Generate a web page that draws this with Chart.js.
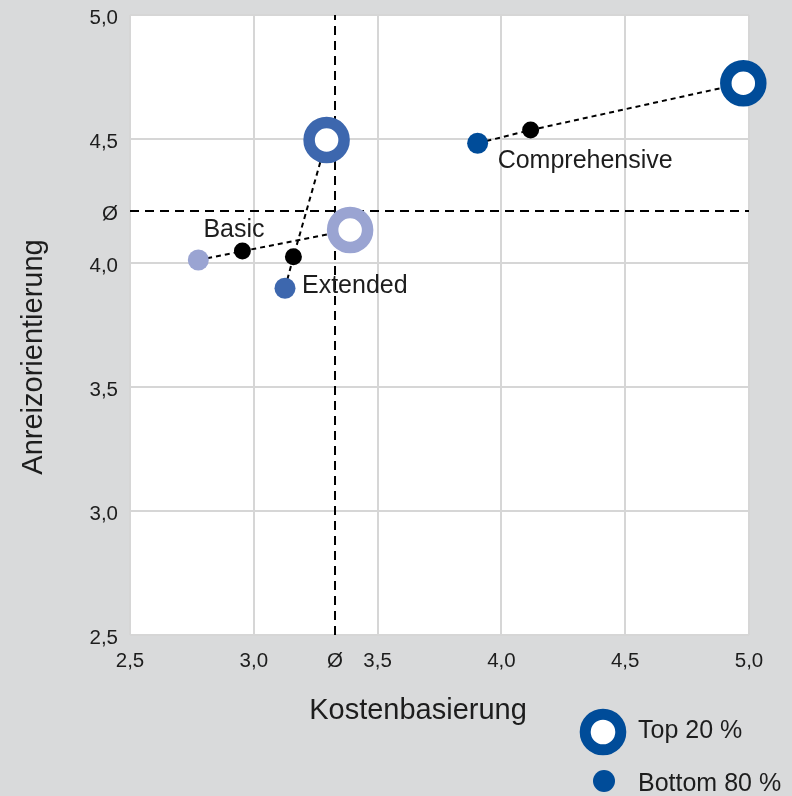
<!DOCTYPE html>
<html>
<head>
<meta charset="utf-8">
<script src="https://cdn.jsdelivr.net/npm/chart.js@4/dist/chart.umd.min.js"></script>
<style>
    html, body { margin: 0; padding: 0; background: #d9dadb; }
    canvas { display: block; }
</style>
</head>
<body>
<canvas id="chart" width="792" height="796"></canvas>
<script>
const groups = ['Basic', 'Extended', 'Comprehensive'];
const groupColors = ['#9aa4d2', '#3d67ae', '#004c99'];

const bottomX = [2.776, 3.126, 3.904];
const bottomY = [4.012, 3.898, 4.483];
const meanX = [2.954, 3.160, 4.118];
const meanY = [4.048, 4.025, 4.536];
const topX = [3.389, 3.294, 4.977];
const topY = [4.133, 4.496, 4.725];

// overall average (Ø)
const avgX = 3.328;
const avgY = 4.210;

const axisMin = 2.5;
const axisMax = 5.0;
const axisStep = 0.5;

const xTitle = 'Kostenbasierung';
const yTitle = 'Anreizorientierung';
const legendLabels = ['Top 20 %', 'Bottom 80 %'];

const FONT = '"Liberation Sans", Arial, sans-serif';
const TEXT = '#1d1d1d';
const GRID = '#d6d6d6';

const fmt = v => v.toFixed(1).replace('.', ',');

const toPts = (xs, ys) => xs.map((x, i) => ({ x, y: ys[i] }));

// dashed connector lines bottom -> mean -> top, one per group
const connectors = groups.map((g, i) => ({
    type: 'line',
    label: g + ' connector',
    data: [
        { x: bottomX[i], y: bottomY[i] },
        { x: meanX[i], y: meanY[i] },
        { x: topX[i], y: topY[i] },
    ],
    borderColor: '#000',
    borderWidth: 2,
    borderDash: [5, 4],
    pointRadius: 0,
    fill: false,
    tension: 0,
    order: 8,
}));

const avgLines = [
    {
        type: 'line',
        label: 'avg x',
        data: [{ x: avgX, y: axisMin }, { x: avgX, y: axisMax }],
        borderColor: '#000',
        borderWidth: 2,
        borderDash: [9, 6],
        pointRadius: 0,
        order: 10,
    },
    {
        type: 'line',
        label: 'avg y',
        data: [{ x: axisMin, y: avgY }, { x: axisMax, y: avgY }],
        borderColor: '#000',
        borderWidth: 2,
        borderDash: [9, 6],
        pointRadius: 0,
        order: 10,
    },
];

const pointSets = [
    {
        type: 'scatter',
        label: 'Mean',
        data: toPts(meanX, meanY),
        pointRadius: 8.5,
        pointBackgroundColor: '#000',
        pointBorderWidth: 0,
        order: 3,
    },
    {
        type: 'scatter',
        label: 'Bottom 80 %',
        data: toPts(bottomX, bottomY),
        pointRadius: 10.5,
        pointBackgroundColor: groupColors,
        pointBorderWidth: 0,
        order: 2,
    },
    {
        type: 'scatter',
        label: 'Top 20 %',
        data: toPts(topX, topY),
        pointRadius: 17.5,
        pointBackgroundColor: '#fff',
        pointBorderColor: groupColors,
        pointBorderWidth: 11.5,
        clip: false,
        order: 1,
    },
];

// label placement relative to an anchor point of each group
const groupLabelPlacement = [
    { anchor: 'mean', dx: -39, dy: -14 },
    { anchor: 'bottom', dx: 17, dy: 5 },
    { anchor: 'bottom', dx: 20, dy: 25 },
];

const decorPlugin = {
    id: 'decor',
    beforeDraw(chart) {
        const { ctx, chartArea: a } = chart;
        ctx.save();
        ctx.fillStyle = '#d9dadb';
        ctx.fillRect(0, 0, chart.width, chart.height);
        ctx.fillStyle = '#fff';
        ctx.fillRect(a.left, a.top, a.right - a.left, a.bottom - a.top);
        ctx.restore();
    },
    afterDraw(chart) {
        const { ctx, scales } = chart;
        const xs = scales.x, ys = scales.y;
        ctx.save();
        ctx.fillStyle = TEXT;

        // group labels
        ctx.font = '25px ' + FONT;
        ctx.textAlign = 'left';
        ctx.textBaseline = 'alphabetic';
        groups.forEach((g, i) => {
            const p = groupLabelPlacement[i];
            const px = p.anchor === 'mean' ? meanX[i] : bottomX[i];
            const py = p.anchor === 'mean' ? meanY[i] : bottomY[i];
            ctx.fillText(g, xs.getPixelForValue(px) + p.dx, ys.getPixelForValue(py) + p.dy);
        });

        // axis titles
        ctx.font = '29px ' + FONT;
        ctx.textAlign = 'center';
        ctx.fillText(xTitle, 418, 719);
        ctx.save();
        ctx.translate(42, 357);
        ctx.rotate(-Math.PI / 2);
        ctx.fillText(yTitle, 0, 0);
        ctx.restore();

        // legend
        const legendColor = groupColors[2];
        ctx.beginPath();
        ctx.arc(603, 732, 17.8, 0, Math.PI * 2);
        ctx.fillStyle = '#fff';
        ctx.fill();
        ctx.lineWidth = 11;
        ctx.strokeStyle = legendColor;
        ctx.stroke();
        ctx.beginPath();
        ctx.arc(604, 781, 11, 0, Math.PI * 2);
        ctx.fillStyle = legendColor;
        ctx.fill();

        ctx.fillStyle = TEXT;
        ctx.font = '25px ' + FONT;
        ctx.textAlign = 'left';
        ctx.fillText(legendLabels[0], 638, 738);
        ctx.fillText(legendLabels[1], 638, 791);
        ctx.restore();
    },
};

function addAvgTick(avg) {
    return scale => {
        const ticks = [];
        for (let v = axisMin; v <= axisMax + 1e-9; v += axisStep) {
            ticks.push({ value: Math.round(v * 10) / 10 });
        }
        ticks.push({ value: avg });
        ticks.sort((a, b) => a.value - b.value);
        scale.ticks = ticks;
    };
}

const gridColor = avg => ctx => (ctx.tick && ctx.tick.value === avg ? 'rgba(0,0,0,0)' : GRID);

new Chart(document.getElementById('chart'), {
    data: {
        datasets: [...avgLines, ...connectors, ...pointSets],
    },
    options: {
        responsive: false,
        animation: false,
        events: [],
        layout: {
            autoPadding: false,
            padding: { top: 15, right: 43, left: 0, bottom: 0 },
        },
        plugins: {
            legend: { display: false },
            tooltip: { enabled: false },
        },
        scales: {
            x: {
                type: 'linear',
                min: axisMin,
                max: axisMax,
                afterBuildTicks: addAvgTick(avgX),
                afterFit: s => {
                    s.height = 161;
                    s.paddingLeft = 0;
                    s.paddingRight = 0;
                },
                border: { display: false },
                grid: {
                    color: gridColor(avgX),
                    lineWidth: 2,
                    drawTicks: false,
                },
                ticks: {
                    autoSkip: false,
                    maxRotation: 0,
                    padding: 14,
                    color: TEXT,
                    font: { family: FONT, size: 20.5 },
                    callback: v => (v === avgX ? 'Ø' : fmt(v)),
                },
            },
            y: {
                type: 'linear',
                min: axisMin,
                max: axisMax,
                afterBuildTicks: addAvgTick(avgY),
                afterFit: s => {
                    s.width = 130;
                    s.paddingTop = 0;
                    s.paddingBottom = 0;
                },
                border: { display: false },
                grid: {
                    color: gridColor(avgY),
                    lineWidth: 2,
                    drawTicks: false,
                },
                ticks: {
                    autoSkip: false,
                    padding: 12,
                    labelOffset: 3,
                    color: TEXT,
                    font: { family: FONT, size: 20.5 },
                    callback: v => (v === avgY ? 'Ø' : fmt(v)),
                },
            },
        },
    },
    plugins: [decorPlugin],
});
</script>
</body>
</html>
